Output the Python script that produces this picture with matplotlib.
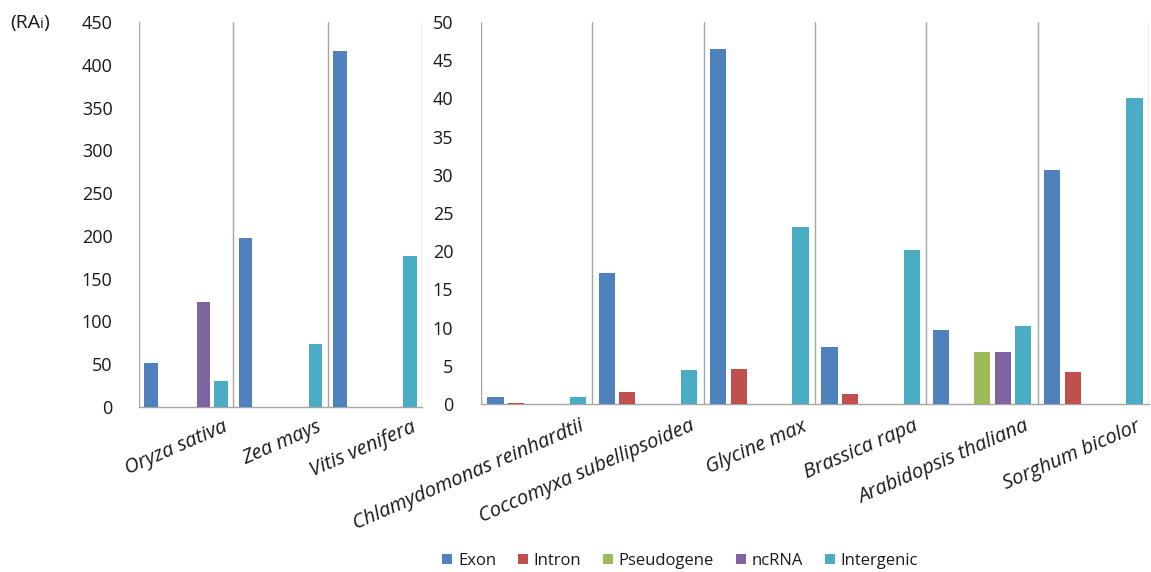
import matplotlib
matplotlib.use("Agg")
import matplotlib.pyplot as plt
import matplotlib.transforms as mtransforms
from matplotlib.patches import Patch
import numpy as np

plt.rcParams['font.family'] = ['Open Sans', 'DejaVu Sans']

series = ["Exon", "Intron", "Pseudogene", "ncRNA", "Intergenic"]
colors = ["#4F81BD", "#C0504D", "#9BBB59", "#8064A2", "#4BACC6"]

left_species = ["Oryza sativa", "Zea mays", "Vitis venifera"]
left_values = {
    "Exon":       [51, 197, 416],
    "Intron":     [0, 0, 0],
    "Pseudogene": [0, 0, 0],
    "ncRNA":      [123, 0, 0],
    "Intergenic": [30, 74, 176],
}
left_ticks = [0, 50, 100, 150, 200, 250, 300, 350, 400, 450]

right_species = ["Chlamydomonas reinhardtii", "Coccomyxa subellipsoidea", "Glycine max",
                 "Brassica rapa", "Arabidopsis thaliana", "Sorghum bicolor"]
right_values = {
    "Exon":       [0.95, 17.1, 46.5, 7.5, 9.7, 30.6],
    "Intron":     [0.13, 1.55, 4.6, 1.3, 0, 4.2],
    "Pseudogene": [0, 0, 0, 0, 6.85, 0],
    "ncRNA":      [0, 0, 0, 0, 6.8, 0],
    "Intergenic": [0.9, 4.5, 23.2, 20.2, 10.2, 40.1],
}
right_ticks = [0, 5, 10, 15, 20, 25, 30, 35, 40, 45, 50]

W, H = 1151, 572
fig = plt.figure(figsize=(W / 100, H / 100), dpi=100)

def px_axes(x0, x1, ytop, ybot):
    return fig.add_axes([x0 / W, (H - ybot) / H, (x1 - x0) / W, (ybot - ytop) / H])

ax1 = px_axes(139, 422, 22, 407)
ax2 = px_axes(481, 1149, 22, 404)

grid_col = "#A6A6A6"
text_col = "#1a1a1a"
spacing = 0.185
width = 0.145

def draw(ax, species, values, ticks, lab_dx, lab_dy, pad):
    n = len(species)
    x = np.arange(n)
    for i, s in enumerate(series):
        ax.bar(x + (i - 2) * spacing, values[s], width=width, color=colors[i], zorder=3)
    ax.set_xlim(-0.5, n - 0.5)
    ax.set_ylim(ticks[0], ticks[-1])
    ax.set_yticks(ticks)
    ax.set_yticklabels([str(t) for t in ticks], fontsize=13, color=text_col)
    ax.tick_params(axis='y', length=0, pad=pad)
    ax.set_xticks([])
    for side in ["top", "right", "left"]:
        ax.spines[side].set_visible(False)
    ax.spines["bottom"].set_color(grid_col)
    ax.spines["bottom"].set_linewidth(1.0)
    for b in np.arange(n + 1) - 0.5:
        ax.axvline(b, color=grid_col, linewidth=1.0, zorder=2)
    trans = mtransforms.blended_transform_factory(ax.transData, ax.transAxes)
    for xi, name in zip(x, species):
        off = mtransforms.ScaledTranslation(lab_dx / 100, -lab_dy / 100, fig.dpi_scale_trans)
        ax.text(xi, 0, name, transform=trans + off, rotation=23.5, rotation_mode='anchor',
                ha='right', va='baseline', fontsize=14.5, style='italic', color=text_col)

draw(ax1, left_species, left_values, left_ticks, 42, 24, 19)
draw(ax2, right_species, right_values, right_ticks, 48, 26, 20)

# "(RAi)" unit label with a smaller "i"
renderer = fig.canvas.get_renderer()
x_px = 10
base_y = (H - 28) / H
for piece, size in [("(RA", 14), ("i", 10.5), (")", 14)]:
    t = fig.text(x_px / W, base_y, piece, fontsize=size, color=text_col, va='baseline', ha='left')
    x_px += t.get_window_extent(renderer).width

handles = [Patch(facecolor=c, edgecolor='none') for c in colors]
fig.legend(handles, series, loc='center', bbox_to_anchor=(680 / W, (H - 561) / H),
           ncol=5, frameon=False, fontsize=12, handlelength=0.6, handleheight=0.6,
           handletextpad=0.35, columnspacing=1.3, labelcolor=text_col)

fig.savefig("out.png", dpi=100)
